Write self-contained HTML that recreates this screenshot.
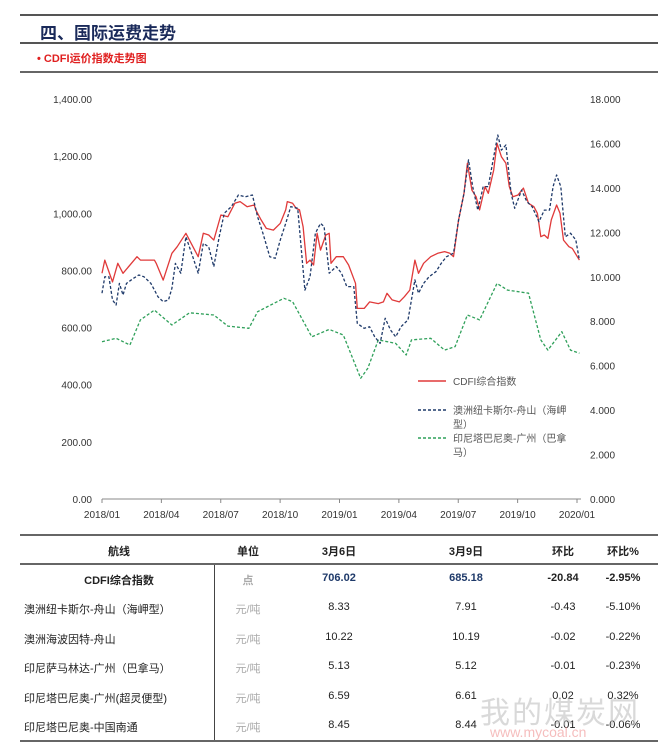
<!DOCTYPE html>
<html><head><meta charset="utf-8"><style>
body{margin:0;background:#fff;width:658px;height:751px;overflow:hidden;position:relative;font-family:"Liberation Sans","Noto Sans CJK SC",sans-serif;}
.abs{position:absolute;}
.hl{position:absolute;left:20px;width:638px;background:#555;}
table{border-collapse:collapse;}
.cell{position:absolute;font-size:11px;color:#222;white-space:nowrap;transform:translateX(-50%);}
.l{transform:none;}
.g{color:#aaa;}
</style></head><body>
<div class="hl" style="top:14px;height:2px"></div>
<div class="abs" style="left:40px;top:19px;font-size:17px;font-weight:bold;color:#1a2a5a">四、国际运费走势</div>
<div class="hl" style="top:42px;height:2px"></div>
<div class="abs" style="left:37px;top:50px;font-size:11px;font-weight:bold;color:#e02020">• CDFI运价指数走势图</div>
<div class="hl" style="top:71px;height:2px;background:#666"></div>

<svg class="abs" style="left:0;top:0" width="658" height="530" id="chart"></svg>

<div class="hl" style="top:534px;height:2px;background:#666"></div>
<div class="hl" style="top:563px;height:2px;background:#666"></div>
<div class="hl" style="top:740px;height:2px;background:#666"></div>
<div class="abs" style="left:214px;top:565px;width:1px;height:175px;background:#444"></div>
<div id="tbl"></div>
<div class="abs" style="left:480px;top:688px;font-size:30px;color:#bbb;opacity:.55;letter-spacing:2px">我的煤炭网</div>
<div class="abs" style="left:490px;top:724px;font-size:14px;color:#e88;opacity:.55">www.mycoal.cn</div>

<script>
const leftTicks=["0.00","200.00","400.00","600.00","800.00","1,000.00","1,200.00","1,400.00"];
const rightTicks=["0.000","2.000","4.000","6.000","8.000","10.000","12.000","14.000","16.000","18.000"];
const xLabels=["2018/01","2018/04","2018/07","2018/10","2019/01","2019/04","2019/07","2019/10","2020/01"];
const redMonths=[0,.14,.53,.8,1.06,1.77,1.94,2.65,2.74,3.09,3.53,3.8,4.24,4.86,5.12,5.39,5.65,6.01,6.36,6.71,6.98,7.33,7.69,7.77,8.04,8.3,8.66,9.01,9.28,9.36,9.63,9.81,9.98,10.16,10.34,10.51,10.69,10.87,11.04,11.31,11.48,11.57,11.84,12.19,12.46,12.81,12.9,13.25,13.52,13.96,14.22,14.4,14.66,15.02,15.28,15.55,15.81,15.99,16.25,16.61,16.96,17.31,17.58,17.76,18.02,18.29,18.46,18.69,18.9,19.08,19.35,19.52,19.79,19.96,20.18,20.41,20.58,20.76,21.02,21.29,21.55,21.82,22.0,22.17,22.35,22.53,22.7,22.97,23.14,23.32,23.59,23.76,24.12];
const redValues=[790,836,760,825,790,848,836,836,825,766,860,883,930,848,930,924,906,994,988,1035,1041,1023,1029,1012,977,947,941,965,1012,1041,1035,1017,1012,953,825,836,819,930,871,924,930,825,848,848,819,755,667,667,690,684,690,720,697,690,708,731,836,790,825,848,860,866,860,848,977,1070,1175,1081,1058,1012,1093,1070,1151,1245,1198,1175,1093,1058,1064,1088,1035,1023,1000,918,924,912,977,1029,1000,906,883,877,836];
const blueMonths=[0,.14,.35,.53,.71,.88,1.06,1.24,1.59,1.86,2.12,2.47,2.83,3.09,3.36,3.53,3.71,3.98,4.24,4.59,4.86,5.12,5.39,5.65,5.92,6.18,6.54,6.89,7.24,7.6,7.86,8.13,8.48,8.75,9.01,9.28,9.54,9.89,10.25,10.51,10.78,11.04,11.22,11.48,11.84,12.1,12.37,12.72,12.9,13.25,13.52,13.78,14.05,14.31,14.58,14.84,15.11,15.46,15.81,15.99,16.25,16.52,16.87,17.14,17.4,17.76,18.02,18.29,18.52,18.73,18.99,19.26,19.52,19.79,20.0,20.18,20.41,20.67,20.85,21.2,21.47,21.73,22.08,22.35,22.61,22.79,22.97,23.18,23.41,23.67,23.94,24.12];
const blueValues=[9.26,10.0,10.0,8.96,8.73,9.7,9.18,9.7,9.93,10.08,10.0,9.7,9.1,8.88,8.96,9.48,10.6,10.16,11.8,10.9,10.16,11.5,11.35,10.46,11.8,12.86,13.16,13.68,13.6,13.68,12.7,11.96,10.9,10.83,11.66,12.4,13.16,13.08,9.4,10.0,11.96,12.4,12.26,10.16,10.46,10.16,9.56,9.56,7.9,7.68,7.75,7.3,7.0,8.13,7.6,7.3,7.76,8.06,9.86,9.26,9.7,10.0,10.23,10.6,10.9,11.06,12.56,13.75,15.26,14.06,13.0,14.06,14.06,15.4,16.38,15.7,15.93,13.75,13.08,13.9,13.38,13.16,12.48,13.0,13.0,14.06,14.58,14.06,11.8,11.96,11.66,10.75];
const greenMonths=[0,.71,1.41,1.94,2.65,3.53,4.42,5.65,6.36,7.42,7.86,9.19,9.63,10.6,11.48,12.19,13.07,13.43,13.96,14.84,15.37,15.64,16.61,17.31,17.84,18.46,19.08,19.96,20.49,21.55,22.17,22.53,23.23,23.67,24.12];
const greenValues=[7.08,7.23,6.93,8.06,8.5,7.83,8.38,8.28,7.78,7.68,8.43,9.03,8.88,7.3,7.63,7.38,5.43,5.88,7.16,7.0,6.48,7.16,7.23,6.7,6.86,8.28,8.06,9.7,9.4,9.26,7.16,6.7,7.53,6.7,6.56];

const NS="http://www.w3.org/2000/svg";
const svg=document.getElementById('chart');
const X0=102,X1=577,YB=499,YT=99;
function xs(m){return X0+m*(X1-X0)/24;}
function yl(v){return YB-v*(YB-YT)/1400;}
function yr(v){return YB-v*(YB-YT)/18;}
function mk(t,a){const e=document.createElementNS(NS,t);for(const k in a)e.setAttribute(k,a[k]);svg.appendChild(e);return e;}
leftTicks.forEach((t,i)=>{const e=mk('text',{x:92,y:yl(i*200)+4,'text-anchor':'end','font-size':10,fill:'#333','font-family':'Liberation Sans, sans-serif'});e.textContent=t;

});
rightTicks.forEach((t,i)=>{const e=mk('text',{x:590,y:yr(i*2)+4,'font-size':10,fill:'#333','font-family':'Liberation Sans, sans-serif'});e.textContent=t;

});
const ax=mk('line',{x1:X0,x2:581,y1:YB,y2:YB,stroke:'#888','stroke-width':1});


xLabels.forEach((t,i)=>{const x=xs(i*3);mk('line',{x1:x,x2:x,y1:YB,y2:YB+4,stroke:'#888'});
const e=mk('text',{x:x,y:518,'text-anchor':'middle','font-size':10,fill:'#333','font-family':'Liberation Sans, sans-serif'});e.textContent=t;

});
function line(ms,vs,yf,col,dash,name){const n=Math.min(ms.length,vs.length);let d='';for(let i=0;i<n;i++)d+=(i?'L':'M')+xs(ms[i]).toFixed(1)+','+yf(vs[i]).toFixed(1);
const p=mk('path',{d:d,fill:'none',stroke:col,'stroke-width':1.3,'stroke-dasharray':dash,'stroke-linejoin':'round'});

}
line(greenMonths,greenValues,yr,'#2fa05a','3,2','series-indonesia-guangzhou');
line(redMonths,redValues,yl,'#e03a3a','none','series-cdfi');
line(blueMonths,blueValues,yr,'#1f3a6a','3,2','series-australia-zhoushan');
const leg=[['#e03a3a','none',381,['CDFI综合指数']],['#1f3a6a','3,2',410,['澳洲纽卡斯尔-舟山（海岬','型）']],['#2fa05a','3,2',438,['印尼塔巴尼奥-广州（巴拿','马）']]];
leg.forEach(l=>{mk('line',{x1:418,x2:446,y1:l[2],y2:l[2],stroke:l[0],'stroke-width':1.5,'stroke-dasharray':l[1]});
l[3].forEach((t,j)=>{const e=mk('text',{x:453,y:l[2]+4+j*14,'font-size':10,fill:'#555','font-family':'Liberation Sans, Noto Sans CJK SC, sans-serif'});e.textContent=t;

});});

const rows=[["CDFI综合指数","点","706.02","685.18","-20.84","-2.95%"],["澳洲纽卡斯尔-舟山（海岬型）","元/吨","8.33","7.91","-0.43","-5.10%"],["澳洲海波因特-舟山","元/吨","10.22","10.19","-0.02","-0.22%"],["印尼萨马林达-广州（巴拿马）","元/吨","5.13","5.12","-0.01","-0.23%"],["印尼塔巴尼奥-广州(超灵便型)","元/吨","6.59","6.61","0.02","0.32%"],["印尼塔巴尼奥-中国南通","元/吨","8.45","8.44","-0.01","-0.06%"]];
const cx=[119,248,339,466,563,623];
const tb=document.getElementById('tbl');
function cell(t,x,y,cls,st){const d=document.createElement('div');d.className='cell '+cls;d.style.left=x+'px';d.style.top=y+'px';if(st)d.style.cssText+=st;d.textContent=t;

tb.appendChild(d);}
["航线","单位","3月6日","3月9日","环比","环比%"].forEach((t,i)=>cell(t,cx[i],543,'','font-weight:bold'));
const ys=[572,601,631,660,690,719];
rows.forEach((r,ri)=>r.forEach((t,i)=>{let st='';let cls='';
if(ri===0){st='font-weight:bold;';if(i===2||i===3)st+='color:#1f3a6a;';}
if(i===1)cls='g';
if(i===0&&ri>0){cls='l';cell(t,24,ys[ri],cls,st);return;}
cell(t,cx[i],ys[ri],cls,st);}));
</script>
</body></html>
